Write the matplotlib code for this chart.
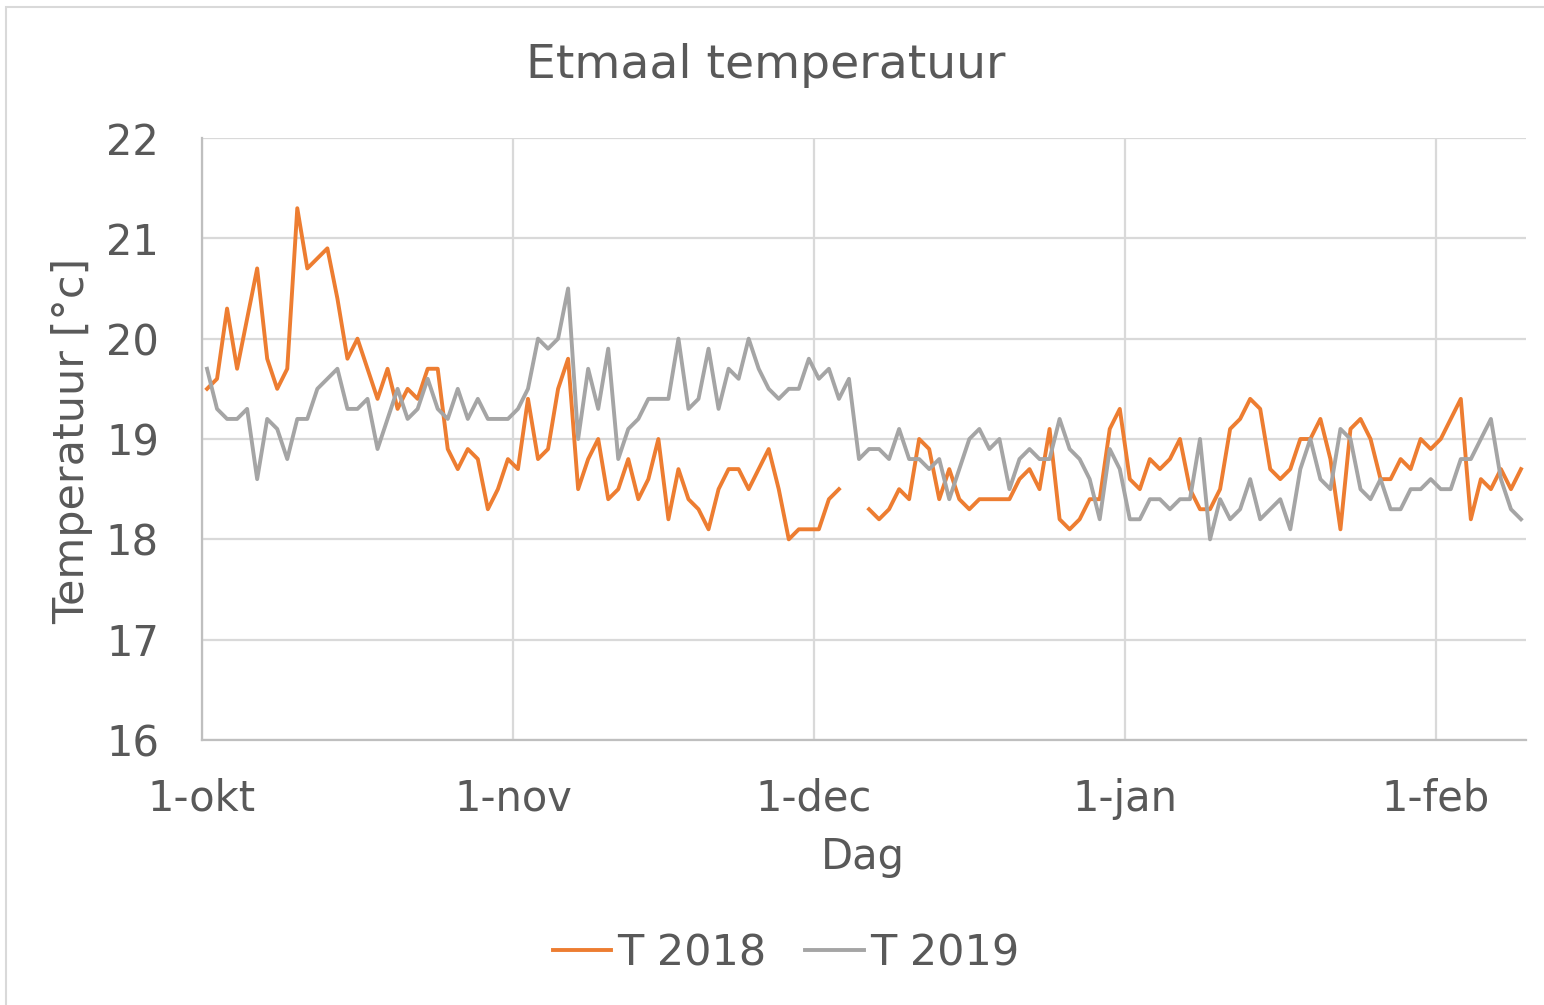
import numpy as np
import matplotlib
matplotlib.use("Agg")
import matplotlib.pyplot as plt
from matplotlib.patches import Rectangle

# daily mean temperature, 1-okt .. 9-feb (one value per day)
t2018 = [19.5, 19.6, 20.3, 19.7, 20.2, 20.7, 19.8, 19.5, 19.7, 21.3,
         20.7, 20.8, 20.9, 20.4, 19.8, 20.0, 19.7, 19.4, 19.7, 19.3,
         19.5, 19.4, 19.7, 19.7, 18.9, 18.7, 18.9, 18.8, 18.3, 18.5,
         18.8, 18.7, 19.4, 18.8, 18.9, 19.5, 19.8, 18.5, 18.8, 19.0,
         18.4, 18.5, 18.8, 18.4, 18.6, 19.0, 18.2, 18.7, 18.4, 18.3,
         18.1, 18.5, 18.7, 18.7, 18.5, 18.7, 18.9, 18.5, 18.0, 18.1,
         18.1, 18.1, 18.4, 18.5, np.nan, np.nan, 18.3, 18.2, 18.3, 18.5,
         18.4, 19.0, 18.9, 18.4, 18.7, 18.4, 18.3, 18.4, 18.4, 18.4,
         18.4, 18.6, 18.7, 18.5, 19.1, 18.2, 18.1, 18.2, 18.4, 18.4,
         19.1, 19.3, 18.6, 18.5, 18.8, 18.7, 18.8, 19.0, 18.5, 18.3,
         18.3, 18.5, 19.1, 19.2, 19.4, 19.3, 18.7, 18.6, 18.7, 19.0,
         19.0, 19.2, 18.8, 18.1, 19.1, 19.2, 19.0, 18.6, 18.6, 18.8,
         18.7, 19.0, 18.9, 19.0, 19.2, 19.4, 18.2, 18.6, 18.5, 18.7,
         18.5, 18.7]

t2019 = [19.7, 19.3, 19.2, 19.2, 19.3, 18.6, 19.2, 19.1, 18.8, 19.2,
         19.2, 19.5, 19.6, 19.7, 19.3, 19.3, 19.4, 18.9, 19.2, 19.5,
         19.2, 19.3, 19.6, 19.3, 19.2, 19.5, 19.2, 19.4, 19.2, 19.2,
         19.2, 19.3, 19.5, 20.0, 19.9, 20.0, 20.5, 19.0, 19.7, 19.3,
         19.9, 18.8, 19.1, 19.2, 19.4, 19.4, 19.4, 20.0, 19.3, 19.4,
         19.9, 19.3, 19.7, 19.6, 20.0, 19.7, 19.5, 19.4, 19.5, 19.5,
         19.8, 19.6, 19.7, 19.4, 19.6, 18.8, 18.9, 18.9, 18.8, 19.1,
         18.8, 18.8, 18.7, 18.8, 18.4, 18.7, 19.0, 19.1, 18.9, 19.0,
         18.5, 18.8, 18.9, 18.8, 18.8, 19.2, 18.9, 18.8, 18.6, 18.2,
         18.9, 18.7, 18.2, 18.2, 18.4, 18.4, 18.3, 18.4, 18.4, 19.0,
         18.0, 18.4, 18.2, 18.3, 18.6, 18.2, 18.3, 18.4, 18.1, 18.7,
         19.0, 18.6, 18.5, 19.1, 19.0, 18.5, 18.4, 18.6, 18.3, 18.3,
         18.5, 18.5, 18.6, 18.5, 18.5, 18.8, 18.8, 19.0, 19.2, 18.6,
         18.3, 18.2]

month_ticks = [0, 31, 61, 92, 123]
month_labels = ["1-okt", "1-nov", "1-dec", "1-jan", "1-feb"]
n_days = 132

txt = "#595959"
W, H = 1544, 1005

fig = plt.figure(figsize=(W / 100, H / 100), dpi=100)
ax = fig.add_axes([202 / W, 1 - 740 / H, 1324 / W, 602 / H])

# points sit in the middle of each day (Excel date axis)
x = np.arange(n_days) + 0.5
ax.plot(x, t2018, color="#ED7D31", lw=2.8, label="T 2018", solid_joinstyle="round")
ax.plot(x, t2019, color="#A5A5A5", lw=2.8, label="T 2019", solid_joinstyle="round")

ax.set_xlim(0, n_days)
ax.set_ylim(16, 22)
ax.set_yticks(range(16, 23))
ax.set_xticks(month_ticks)
ax.set_xticklabels(month_labels)

ax.grid(True, color="#D9D9D9", lw=1.6)
ax.set_axisbelow(True)
for s in ["top", "right"]:
    ax.spines[s].set_visible(False)
for s in ["left", "bottom"]:
    ax.spines[s].set_color("#BFBFBF")
    ax.spines[s].set_linewidth(1.6)

ax.tick_params(axis="both", length=0, labelsize=30, labelcolor=txt)
ax.tick_params(axis="y", pad=31)
ax.tick_params(axis="x", pad=27)

fig.text(766 / W, 1 - 65 / H, "Etmaal temperatuur", fontsize=34, color=txt,
         ha="center", va="center")
fig.text(72 / W, 1 - 441 / H, "Temperatuur [°c]", fontsize=31, color=txt,
         ha="center", va="center", rotation=90)
fig.text(863 / W, 1 - 857 / H, "Dag", fontsize=30, color=txt,
         ha="center", va="center")

fig.legend(loc="center", bbox_to_anchor=(786 / W, 1 - 953 / H), ncol=2,
           frameon=False, fontsize=31, labelcolor=txt, handlelength=1.35,
           handletextpad=0.15, columnspacing=0.9)

# chart area border
fig.patches.append(Rectangle((6 / W, -0.05), 1.1, 1.05 - 7 / H,
                             transform=fig.transFigure, fill=False,
                             edgecolor="#D9D9D9", lw=1.5))

fig.savefig("out.png", dpi=100, facecolor="white")
